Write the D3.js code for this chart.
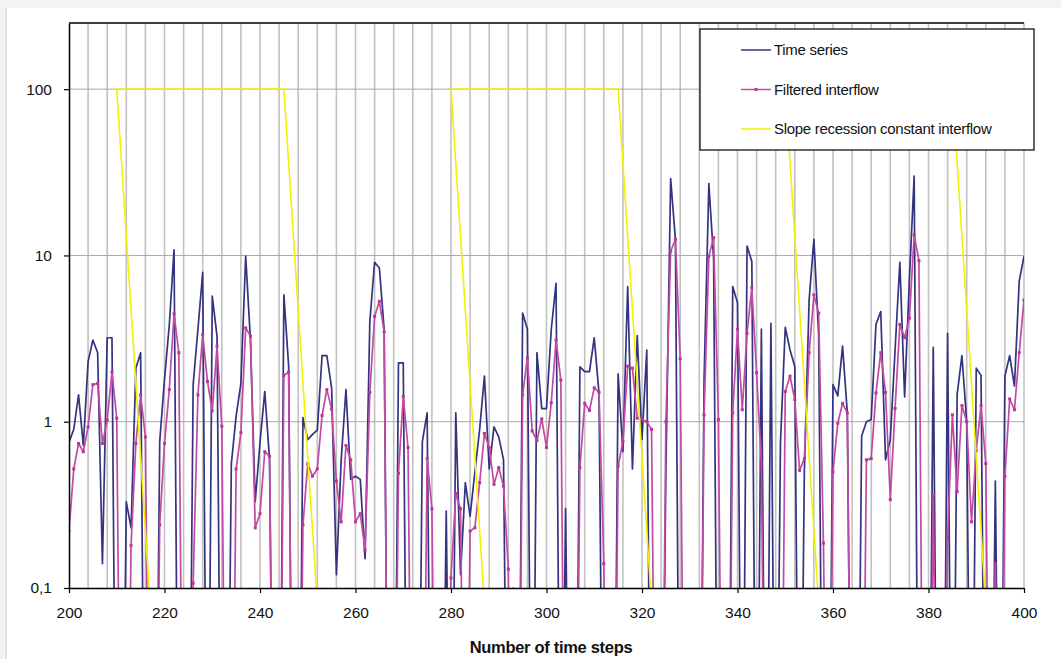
<!DOCTYPE html>
<html>
<head>
<meta charset="utf-8">
<script src="https://cdn.jsdelivr.net/npm/d3@7"></script>
<style>
  body { margin: 0; background: #f3f3f3; }
  svg { display: block; font-family: "Liberation Sans", Arial, sans-serif; }
</style>
</head>
<body>
<svg id="chart" width="1061" height="659"></svg>
<script>
// first time step of both series, one value per step after it
const firstStep = 200;

const timeSeries = [
  0.75, 0.9, 1.45, 0.72, 2.3, 3.1, 2.6, 0.14, 3.2, 3.2,
  0, 0, 0.33, 0.23, 2.1, 2.6, 0, 0, 0, 0.76,
  1.8, 3.8, 10.8, 0, 0, 0, 1.67, 3.6, 7.9, 0,
  5.7, 3.27, 0, 0, 0.56, 1.08, 1.7, 9.9, 3.1, 0.33,
  0.75, 1.52, 0.59, 0, 0, 5.8, 2.16, 0, 0, 1.06,
  0.78, 0.84, 0.89, 2.5, 2.5, 1.6, 0.12, 0.59, 1.56, 0.45,
  0.47, 0.45, 0.15, 4.0, 9.1, 8.4, 3.6, 0, 0, 2.26,
  2.26, 0, 0, 0, 0.76, 1.13, 0, 0, 0, 0.29,
  0, 1.13, 0.12, 0.43, 0.27, 0.5, 0.9, 1.88, 0.52, 0.93,
  0.81, 0.59, 0, 0.1, 0, 4.5, 3.6, 0, 2.6, 1.2,
  1.2, 3.6, 6.8, 0, 0.3, 0, 0, 2.14, 2.0, 2.0,
  3.2, 1.48, 0, 0, 0, 1.94, 0.66, 6.5, 0.52, 3.3,
  0.78, 2.7, 0, 0, 0, 0.5, 29, 12.5, 0, 0,
  0, 0, 0, 1.8, 27, 9.5, 0, 0, 0, 6.5,
  5.2, 0, 11.4, 9.2, 0, 3.6, 0, 3.9, 0, 0.75,
  3.7, 2.7, 2.15, 0, 0.5, 5.4, 12.5, 3.3, 0, 0,
  1.67, 1.43, 2.85, 1.13, 0, 0, 0.82, 1.0, 1.03, 3.85,
  4.6, 0.59, 0.78, 2.7, 9.1, 1.41, 7.2, 30, 0, 0,
  0, 2.8, 0, 0, 3.4, 0, 1.46, 2.5, 1.0, 0,
  2.1, 1.9, 0, 0, 0.44, 0, 1.88, 2.5, 1.64, 7.0,
  9.9
];

const filteredInterflow = [
  0.22, 0.52, 0.74, 0.66, 0.93, 1.67, 1.7, 0.74, 1.02, 1.99,
  1.05, 0, 0, 0.18, 0.74, 1.45, 0.81, 0, 0, 0.24,
  0.74, 1.56, 4.46, 2.6, 0, 0, 0.107, 1.45, 3.35, 1.75,
  1.16, 2.85, 0.94, 0, 0, 0.52, 0.86, 3.67, 3.27, 0.23,
  0.28, 0.66, 0.62, 0, 0, 1.9, 1.99, 0, 0, 0.24,
  0.56, 0.47, 0.52, 1.09, 1.56, 1.19, 0.44, 0.25, 0.72, 0.59,
  0.25, 0.28, 0.17, 1.5, 4.3, 5.3, 3.47, 0, 0, 0.49,
  1.42, 0.7, 0, 0, 0, 0.6, 0.3, 0, 0, 0,
  0.115, 0.37, 0.3, 0, 0.22, 0.23, 0.43, 0.85, 0.7, 0.42,
  0.53, 0.41, 0.13, 0, 0, 1.45, 2.42, 0.88, 0.77, 1.04,
  0.7, 1.3, 3.1, 1.78, 0, 0, 0, 0.53, 1.29, 1.17,
  1.6, 1.5, 0.14, 0, 0, 0.54, 0.76, 2.16, 2.1, 1.05,
  1.03, 1.0, 0.9, 0, 0, 1.0, 10.6, 12.5, 2.39, 0,
  0, 0, 0, 1.1, 9.9, 12.8, 1.03, 0, 0, 1.13,
  3.6, 1.18, 3.4, 6.4, 1.97, 0.56, 0, 0, 0, 0,
  1.52, 1.88, 1.36, 0.51, 0.6, 2.6, 5.8, 4.5, 0.186, 0,
  0.5, 0.98, 1.29, 1.13, 0, 0, 0, 0.59, 0.6, 1.49,
  2.6, 1.5, 0.34, 1.2, 3.85, 3.2, 4.2, 13.3, 9.3, 0,
  0, 0.36, 0, 0, 0.2, 1.1, 0.38, 1.25, 1.0, 0.25,
  0.67, 1.25, 0.56, 0, 0.14, 0, 0.47, 1.37, 1.18, 2.6,
  5.4
];

// slope recession constant: [time step, value] polylines
const recessionLines = [
  [[210, 100], [217, 0.08]],
  [[210, 100], [245, 100], [252, 0.08]],
  [[280, 100], [287, 0.08]],
  [[280, 100], [315, 100], [322, 0.08]],
  [[350, 100], [357, 0.08]],
  [[350, 100], [385, 100], [392, 0.08]]
];

const xTicks = [200, 220, 240, 260, 280, 300, 320, 340, 360, 380, 400];
const xGridStep = 4;
const yTicks = [0.1, 1, 10, 100];
const yTickLabels = ["0,1", "1", "10", "100"];
const yMax = 250;

const legendNames = ["Time series", "Filtered interflow", "Slope recession constant interflow"];
const seriesColors = ["#33337f", "#c449a2", "#f2f200"];

const xTitle = "Number of time steps";

/*
 * layout
 */
const plot = { left: 69, right: 1024, top: 23, bottom: 588 };

const svg = d3.select("#chart");

// white sheet inside the grey frame
svg.append("rect")
  .attr("x", 7).attr("y", 8)
  .attr("width", 1061 - 7).attr("height", 659 - 8)
  .attr("fill", "#fff");
svg.append("line")
  .attr("x1", 6).attr("x2", 6)
  .attr("y1", 8).attr("y2", 659)
  .attr("stroke", "#dbe4ef").attr("stroke-width", 2);

const x = d3.scaleLinear()
  .domain([xTicks[0], xTicks[xTicks.length - 1]])
  .range([plot.left, plot.right]);

const y = d3.scaleLog()
  .domain([yTicks[0], yMax])
  .range([plot.bottom, plot.top]);

svg.append("clipPath").attr("id", "plot-clip")
  .append("rect")
  .attr("x", plot.left).attr("y", plot.top)
  .attr("width", plot.right - plot.left)
  .attr("height", plot.bottom - plot.top);

/*
 * grid
 */
const grid = svg.append("g");

grid.selectAll("line.vgrid")
  .data(d3.range(xTicks[0] + xGridStep, xTicks[xTicks.length - 1] + 1, xGridStep))
  .enter()
  .append("line")
  .attr("class", "vgrid")
  .attr("x1", d => x(d)).attr("x2", d => x(d))
  .attr("y1", plot.top).attr("y2", plot.bottom)
  .attr("stroke", "#c2c2c2")
  .attr("stroke-width", 1.6);

grid.selectAll("line.hgrid")
  .data(yTicks.slice(1))
  .enter()
  .append("line")
  .attr("class", "hgrid")
  .attr("x1", plot.left).attr("x2", plot.right)
  .attr("y1", d => y(d)).attr("y2", d => y(d))
  .attr("stroke", "#a8a8a8")
  .attr("stroke-width", 1);

/*
 * series
 */
const floor = 0.001;
const lineGen = d3.line()
  .x((d, i) => x(firstStep + i))
  .y(d => y(Math.max(d, floor)));

const marks = svg.append("g").attr("clip-path", "url(#plot-clip)");

marks.append("path")
  .datum(timeSeries)
  .attr("d", lineGen)
  .attr("fill", "none")
  .attr("stroke", seriesColors[0])
  .attr("stroke-width", 1.7)
  .attr("stroke-linejoin", "round");

marks.append("path")
  .datum(filteredInterflow)
  .attr("d", lineGen)
  .attr("fill", "none")
  .attr("stroke", seriesColors[1])
  .attr("stroke-width", 1.7)
  .attr("stroke-linejoin", "round");

marks.selectAll("rect.marker")
  .data(filteredInterflow.map((v, i) => [firstStep + i, v]).filter(d => d[1] > 0))
  .enter()
  .append("rect")
  .attr("class", "marker")
  .attr("x", d => x(d[0]) - 1.5)
  .attr("y", d => y(d[1]) - 1.5)
  .attr("width", 3).attr("height", 3)
  .attr("fill", "#bf3399");

const recessionGen = d3.line()
  .x(d => x(d[0]))
  .y(d => y(d[1]));

marks.selectAll("path.recession")
  .data(recessionLines)
  .enter()
  .append("path")
  .attr("class", "recession")
  .attr("d", recessionGen)
  .attr("fill", "none")
  .attr("stroke", seriesColors[2])
  .attr("stroke-width", 1.6);

/*
 * axes
 */
svg.append("line")
  .attr("x1", plot.left).attr("x2", plot.right)
  .attr("y1", plot.top).attr("y2", plot.top)
  .attr("stroke", "#000").attr("stroke-width", 1.5);

const xAxis = svg.append("g")
  .attr("transform", `translate(0,${plot.bottom})`)
  .call(d3.axisBottom(x).tickValues(xTicks).tickSize(5).tickSizeOuter(0).tickPadding(14));

const yAxis = svg.append("g")
  .attr("transform", `translate(${plot.left},0)`)
  .call(d3.axisLeft(y).tickValues(yTicks).tickFormat((d, i) => yTickLabels[i])
    .tickSize(5).tickSizeOuter(0).tickPadding(12));

[xAxis, yAxis].forEach(a => {
  a.select(".domain").attr("stroke", "#000").attr("stroke-width", 1.5);
  a.selectAll(".tick line").attr("stroke", "#000").attr("stroke-width", 1.2);
  a.selectAll(".tick text")
    .attr("fill", "#111")
    .style("font-size", "15.5px")
    .style("font-family", "'Liberation Sans', Arial, sans-serif");
});

svg.append("text")
  .attr("x", 551)
  .attr("y", 653)
  .attr("text-anchor", "middle")
  .style("font-size", "16.5px")
  .style("font-weight", "bold")
  .style("letter-spacing", "-0.3px")
  .attr("fill", "#111")
  .text(xTitle);

/*
 * legend
 */
const legend = svg.append("g").attr("transform", "translate(700,29)");

legend.append("rect")
  .attr("x", 0).attr("y", 0)
  .attr("width", 334).attr("height", 121)
  .attr("fill", "#fff")
  .attr("stroke", "#000")
  .attr("stroke-width", 1.2);

const rows = legend.selectAll("g.row")
  .data(legendNames)
  .enter()
  .append("g")
  .attr("class", "row")
  .attr("transform", (d, i) => `translate(0,${21 + i * 39.5})`);

rows.append("line")
  .attr("x1", 41).attr("x2", 71)
  .attr("y1", 0).attr("y2", 0)
  .attr("stroke", (d, i) => seriesColors[i])
  .attr("stroke-width", 1.5);

rows.filter((d, i) => i === 1)
  .append("rect")
  .attr("x", 54.5).attr("y", -1.5)
  .attr("width", 3).attr("height", 3)
  .attr("fill", "#bf3399");

rows.append("text")
  .attr("x", 74)
  .attr("y", 5)
  .style("font-size", "15px")
  .style("letter-spacing", "-0.3px")
  .attr("fill", "#111")
  .text(d => d);
</script>
</body>
</html>
